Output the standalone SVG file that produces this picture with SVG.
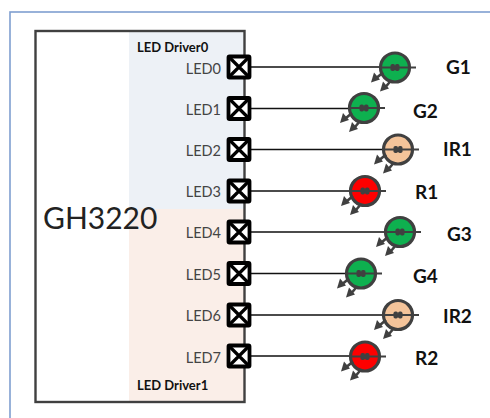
<svg xmlns="http://www.w3.org/2000/svg" width="490" height="418" viewBox="0 0 490 418">
<style>
text{font-family:Lato,"Liberation Sans",sans-serif;fill:#222}
.pin{font-size:14.500px;text-anchor:end;fill:#444}
.drv{font-size:13px;font-weight:bold;fill:#111}
.name{font-size:19px;font-weight:bold;fill:#111}
.box{fill:#fff;stroke:#000;stroke-width:3.800}
.x{stroke:#000;stroke-width:3.200;fill:none}
.wire{stroke:#111;stroke-width:1.300;fill:none}
.led{stroke:#404040;stroke-width:3.200}
.bar{stroke:#404040;stroke-width:2.200;fill:none}
.die{fill:#404040}
.ray{stroke:#404040;stroke-width:2.600;fill:none}
.tip{fill:#404040}
</style>
<defs>
<g id="pad"><rect class="box" x="-10.500" y="-10.500" width="21" height="21" rx="1"/><path class="x" d="M-9.500-9.500L9.500 9.500M9.500-9.500L-9.500 9.500"/></g>
<g id="rays">
<path class="ray" d="M-12 5L-18 10"/><path class="tip" d="M-24 15L-21 5L-15 12Z"/>
<path class="ray" d="M-4 13L-9 19"/><path class="tip" d="M-15 24L-12 14L-6 21Z"/>
</g>
<g id="die"><path class="bar" d="M-15 0H21"/><rect class="die" x="-4.500" y="-3.500" width="4.500" height="7" rx="1.800"/><rect class="die" x="0" y="-3.500" width="4.500" height="7" rx="1.800"/></g>
</defs>
<rect id="frame" x="10" y="12" width="490" height="420" fill="#fff" stroke="#7f9fd0" stroke-width="1.600"/>
<g id="chip">
<rect x="129" y="32" width="115" height="177" fill="#edf1f6"/>
<rect x="129" y="209" width="115" height="192" fill="#faeee8"/>
<rect x="35.500" y="31" width="209" height="371" fill="none" stroke="#404040" stroke-width="2.400"/>
<text x="43" y="229" font-size="30" fill="#222">GH3220</text>
<text class="drv" x="137" y="52">LED Driver0</text>
<text class="drv" x="137" y="390">LED Driver1</text>
</g>
<g id="connectors">
<path class="wire" d="M250 67H380M250 108.500H350M250 149.500H384M250 191H351M250 232H386M250 273.500H347M250 315H384M250 356H351"/>
</g>
<g id="pins">
<g id="pin0"><use href="#pad" x="239" y="67"/><text class="pin" x="221" y="74">LED0</text></g>
<g id="pin1"><use href="#pad" x="239" y="108.500"/><text class="pin" x="221" y="115">LED1</text></g>
<g id="pin2"><use href="#pad" x="239" y="149.500"/><text class="pin" x="221" y="156">LED2</text></g>
<g id="pin3"><use href="#pad" x="239" y="191"/><text class="pin" x="221" y="197">LED3</text></g>
<g id="pin4"><use href="#pad" x="239" y="232"/><text class="pin" x="221" y="238">LED4</text></g>
<g id="pin5"><use href="#pad" x="239" y="273.500"/><text class="pin" x="221" y="280">LED5</text></g>
<g id="pin6"><use href="#pad" x="239" y="315"/><text class="pin" x="221" y="321">LED6</text></g>
<g id="pin7"><use href="#pad" x="239" y="356"/><text class="pin" x="221" y="363">LED7</text></g>
</g>
<g id="G1"><circle class="led" cx="395" cy="67.500" r="14.500" fill="#0eb04f"/><use href="#die" x="395" y="67.500"/><use href="#rays" x="395" y="67.500"/><text class="name" x="446" y="74">G1</text></g>
<g id="G2"><circle class="led" cx="364" cy="108" r="14.500" fill="#0eb04f"/><use href="#die" x="364" y="108"/><use href="#rays" x="364" y="108"/><text class="name" x="413" y="118">G2</text></g>
<g id="IR1"><circle class="led" cx="398" cy="149.500" r="14.500" fill="#f4c49a"/><use href="#die" x="398" y="149.500"/><use href="#rays" x="398" y="149.500"/><text class="name" x="443" y="156">IR1</text></g>
<g id="R1"><circle class="led" cx="365" cy="191" r="14.500" fill="#fe0000"/><use href="#die" x="365" y="191"/><use href="#rays" x="365" y="191"/><text class="name" x="415" y="199">R1</text></g>
<g id="G3"><circle class="led" cx="400" cy="232" r="14.500" fill="#0eb04f"/><use href="#die" x="400" y="232"/><use href="#rays" x="400" y="232"/><text class="name" x="447" y="241">G3</text></g>
<g id="G4"><circle class="led" cx="361" cy="273.500" r="14.500" fill="#0eb04f"/><use href="#die" x="361" y="273.500"/><use href="#rays" x="361" y="273.500"/><text class="name" x="413" y="283">G4</text></g>
<g id="IR2"><circle class="led" cx="398" cy="315" r="14.500" fill="#f4c49a"/><use href="#die" x="398" y="315"/><use href="#rays" x="398" y="315"/><text class="name" x="443" y="323">IR2</text></g>
<g id="R2"><circle class="led" cx="365" cy="356.500" r="14.500" fill="#fe0000"/><use href="#die" x="365" y="356.500"/><use href="#rays" x="365" y="356.500"/><text class="name" x="415" y="365">R2</text></g>
</svg>
